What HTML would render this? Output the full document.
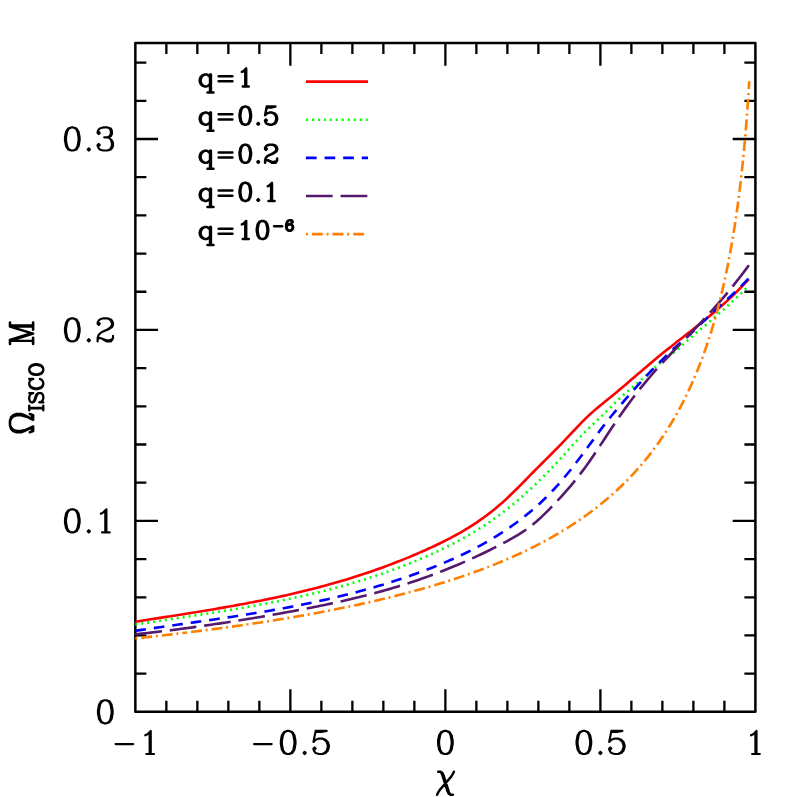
<!DOCTYPE html>
<html><head><meta charset="utf-8"><title>ISCO frequency</title>
<style>html,body{margin:0;padding:0;background:#fff;font-family:"Liberation Sans",sans-serif}svg{display:block}</style>
</head><body>
<svg width="797" height="797" viewBox="0 0 797 797">
<rect width="797" height="797" fill="#fff"/>
<defs><path id="g0" d="M9.05 -21 6.2 -20 4.3 -17 3.35 -12 3.35 -9 4.3 -4 6.2 -1 9.05 0 10.95 0 13.8 -1 15.7 -4 16.65 -9 16.65 -12 15.7 -17 13.8 -20 10.95 -21 9.05 -21M9.05 -21 7.15 -20 6.2 -19 5.25 -17 4.3 -12 4.3 -9 5.25 -4 6.2 -2 7.15 -1 9.05 0M10.95 0 12.85 -1 13.8 -2 14.75 -4 15.7 -9 15.7 -12 14.75 -17 13.8 -19 12.85 -20 10.95 -21"/><path id="g1" d="M6 -17 8 -18 11 -21 11 0M10 -20 10 0M7 0 14 0"/><path id="g2" d="M4 -17 5 -16 4 -15 3 -16 3 -17 4 -19 5 -20 8 -21 12 -21 15 -20 16 -19 17 -17 17 -15 16 -13 13 -11 8 -9 6 -8 4 -6 3 -3 3 0M12 -21 14 -20 15 -19 16 -17 16 -15 15 -13 12 -11 8 -9M3 -2 4 -3 6 -3 11 -1 14 -1 16 -2 17 -3M6 -3 11 0 15 0 16 -1 17 -3 17 -5"/><path id="g3" d="M4 -17 5 -16 4 -15 3 -16 3 -17 4 -19 5 -20 8 -21 12 -21 15 -20 16 -18 16 -15 15 -13 12 -12 9 -12M12 -21 14 -20 15 -18 15 -15 14 -13 12 -12M12 -12 14 -11 16 -9 17 -7 17 -4 16 -2 15 -1 12 0 8 0 5 -1 4 -2 3 -4 3 -5 4 -6 5 -5 4 -4M15 -10 16 -7 16 -4 15 -2 14 -1 12 0"/><path id="g4" d="M12 -19 12 0M13 -21 13 0M13 -21 2 -6 18 -6M9 0 16 0"/><path id="g5" d="M5 -21 3 -11M3 -11 5 -13 8 -14 11 -14 14 -13 16 -11 17 -8 17 -6 16 -3 14 -1 11 0 8 0 5 -1 4 -2 3 -4 3 -5 4 -6 5 -5 4 -4M11 -14 13 -13 15 -11 16 -8 16 -6 15 -3 13 -1 11 0M5 -21 15 -21M5 -20 10 -20 15 -21"/><path id="g6" d="M15 -18 14 -17 15 -16 16 -17 16 -18 15 -20 13 -21 10 -21 7 -20 5 -18 4 -16 3 -12 3 -6 4 -3 6 -1 9 0 11 0 14 -1 16 -3 17 -6 17 -7 16 -10 14 -12 11 -13 10 -13 7 -12 5 -10 4 -7M10 -21 8 -20 6 -18 5 -16 4 -12 4 -6 5 -3 7 -1 9 0M11 0 13 -1 15 -3 16 -6 16 -7 15 -10 13 -12 11 -13"/><path id="g7" d="M3 -21 3 -15M3 -17 4 -19 6 -21 8 -21 13 -18 15 -18 16 -19 17 -21M4 -19 6 -20 8 -20 13 -18M17 -21 17 -18 16 -15 12 -10 11 -8 10 -5 10 0M16 -15 11 -10 10 -8 9 -5 9 0"/><path id="g8" d="M8 -21 5 -20 4 -18 4 -15 5 -13 8 -12 12 -12 15 -13 16 -15 16 -18 15 -20 12 -21 8 -21M8 -21 6 -20 5 -18 5 -15 6 -13 8 -12M12 -12 14 -13 15 -15 15 -18 14 -20 12 -21M8 -12 5 -11 4 -10 3 -8 3 -4 4 -2 5 -1 8 0 12 0 15 -1 16 -2 17 -4 17 -8 16 -10 15 -11 12 -12M8 -12 6 -11 5 -10 4 -8 4 -4 5 -2 6 -1 8 0M12 0 14 -1 15 -2 16 -4 16 -8 15 -10 14 -11 12 -12"/><path id="g9" d="M16 -14 15 -11 13 -9 10 -8 9 -8 6 -9 4 -11 3 -14 3 -15 4 -18 6 -20 9 -21 11 -21 14 -20 16 -18 17 -15 17 -9 16 -5 15 -3 13 -1 10 0 7 0 5 -1 4 -3 4 -4 5 -5 6 -4 5 -3M9 -8 7 -9 5 -11 4 -14 4 -15 5 -18 7 -20 9 -21M11 -21 13 -20 15 -18 16 -15 16 -9 15 -5 14 -3 12 -1 10 0"/><path id="g10" d="M5 -2 4 -1 5 0 6 -1 5 -2"/><path id="g11" d="M15 -14 15 7M16 -14 16 7M15 -11 13 -13 11 -14 9 -14 6 -13 4 -11 3 -8 3 -6 4 -3 6 -1 9 0 11 0 13 -1 15 -3M9 -14 7 -13 5 -11 4 -8 4 -6 5 -3 7 -1 9 0M12 7 19 7"/><path id="g12" d="M5 -21 5 0M6 -21 12 -3M5 -21 12 0M19 -21 12 0M19 -21 19 0M20 -21 20 0M2 -21 6 -21M19 -21 23 -21M2 0 8 0M16 0 23 0"/><path id="g13" d="M5 -21 5 0M6 -21 6 0M2 -21 9 -21M2 0 9 0"/><path id="g14" d="M16 -18 17 -21 17 -15 16 -18 14 -20 11 -21 8 -21 5 -20 3 -18 3 -16 4 -14 5 -13 7 -12 13 -10 15 -9 17 -7M3 -16 5 -14 7 -13 13 -11 15 -10 16 -9 17 -7 17 -3 15 -1 12 0 9 0 6 -1 4 -3 3 -6 3 0 4 -3"/><path id="g15" d="M17 -18 18 -15 18 -21 17 -18 15 -20 12 -21 10 -21 7 -20 5 -18 4 -16 3 -13 3 -8 4 -5 5 -3 7 -1 10 0 12 0 15 -1 17 -3 18 -5M10 -21 8 -20 6 -18 5 -16 4 -13 4 -8 5 -5 6 -3 8 -1 10 0"/><path id="g16" d="M10 -21 7 -20 5 -18 4 -16 3 -12 3 -9 4 -5 5 -3 7 -1 10 0 12 0 15 -1 17 -3 18 -5 19 -9 19 -12 18 -16 17 -18 15 -20 12 -21 10 -21M10 -21 8 -20 6 -18 5 -16 4 -12 4 -9 5 -5 6 -3 8 -1 10 0M12 0 14 -1 16 -3 17 -5 18 -9 18 -12 17 -16 16 -18 14 -20 12 -21"/><path id="g17" d="M3 -3 4 0 8 0 6 -4 4 -8 3 -11 3 -15 4 -18 6 -20 9 -21 13 -21 16 -20 18 -18 19 -15 19 -11 18 -8 16 -4 14 0 18 0 19 -3M6 -4 5 -7 4 -11 4 -15 5 -18 7 -20 9 -21M13 -21 15 -20 17 -18 18 -15 18 -11 17 -7 16 -4M4 -1 7 -1M15 -1 18 -1"/><path id="g18" d="M2 -14 4 -14 6 -13 7 -11 12 4 13 6 14 7M4 -14 5 -13 6 -11 11 4 12 6 14 7 16 7M17 -14 16 -12 14 -9 4 2 2 5 1 7"/><path id="g19" d="M5 -9 21 -9"/><path id="g20" d="M5 -12 21 -12M5 -6 21 -6"/></defs>
<rect x="135.35" y="43.1" width="620.05" height="668.75" fill="none" stroke="#000" stroke-width="2.5" stroke-linejoin="round"/>
<path d="M166.35 711.85v-11M166.35 43.1v11M197.35 711.85v-11M197.35 43.1v11M228.36 711.85v-11M228.36 43.1v11M259.36 711.85v-11M259.36 43.1v11M290.36 711.85v-22.7M290.36 43.1v22.7M321.37 711.85v-11M321.37 43.1v11M352.37 711.85v-11M352.37 43.1v11M383.37 711.85v-11M383.37 43.1v11M414.37 711.85v-11M414.37 43.1v11M445.38 711.85v-22.7M445.38 43.1v22.7M476.38 711.85v-11M476.38 43.1v11M507.38 711.85v-11M507.38 43.1v11M538.38 711.85v-11M538.38 43.1v11M569.38 711.85v-11M569.38 43.1v11M600.39 711.85v-22.7M600.39 43.1v22.7M631.39 711.85v-11M631.39 43.1v11M662.39 711.85v-11M662.39 43.1v11M693.39 711.85v-11M693.39 43.1v11M724.4 711.85v-11M724.4 43.1v11M135.35 673.66h11M755.4 673.66h-11M135.35 635.47h11M755.4 635.47h-11M135.35 597.28h11M755.4 597.28h-11M135.35 559.09h11M755.4 559.09h-11M135.35 520.9h22.7M755.4 520.9h-22.7M135.35 482.71h11M755.4 482.71h-11M135.35 444.52h11M755.4 444.52h-11M135.35 406.33h11M755.4 406.33h-11M135.35 368.14h11M755.4 368.14h-11M135.35 329.95h22.7M755.4 329.95h-22.7M135.35 291.76h11M755.4 291.76h-11M135.35 253.57h11M755.4 253.57h-11M135.35 215.38h11M755.4 215.38h-11M135.35 177.19h11M755.4 177.19h-11M135.35 139h22.7M755.4 139h-22.7M135.35 100.81h11M755.4 100.81h-11M135.35 62.62h11M755.4 62.62h-11" fill="none" stroke="#000" stroke-width="2.3"/>
<path d="M135.35 621.7 138.43 621.22 141.52 620.74 144.6 620.26 147.68 619.78 150.77 619.3 153.85 618.82 156.93 618.34 160.02 617.86 163.1 617.38 166.18 616.9 169.26 616.42 172.35 615.94 175.43 615.46 178.51 614.97 181.6 614.49 184.68 614 187.76 613.51 190.85 613.01 193.93 612.51 197.01 612.02 200.1 611.51 203.18 611.01 206.26 610.5 209.35 609.98 212.43 609.46 215.51 608.94 218.6 608.41 221.68 607.88 224.76 607.35 227.84 606.8 230.93 606.25 234.01 605.7 237.09 605.14 240.18 604.57 243.26 604 246.34 603.42 249.43 602.83 252.51 602.24 255.59 601.64 258.68 601.03 261.76 600.41 264.84 599.79 267.93 599.15 271.01 598.51 274.09 597.86 277.18 597.2 280.26 596.53 283.34 595.85 286.43 595.16 289.51 594.46 292.59 593.76 295.67 593.04 298.76 592.3 301.84 591.56 304.92 590.81 308.01 590.05 311.09 589.27 314.17 588.48 317.26 587.68 320.34 586.87 323.42 586.04 326.51 585.21 329.59 584.36 332.67 583.49 335.76 582.61 338.84 581.72 341.92 580.82 345.01 579.9 348.09 578.96 351.17 578.01 354.25 577.05 357.34 576.07 360.42 575.07 363.5 574.06 366.59 573.04 369.67 571.99 372.75 570.93 375.84 569.86 378.92 568.77 382 567.66 385.09 566.53 388.17 565.39 391.25 564.22 394.34 563.04 397.42 561.84 400.5 560.63 403.59 559.39 406.67 558.14 409.75 556.86 412.83 555.57 415.92 554.26 419 552.92 422.08 551.57 425.17 550.2 428.25 548.8 431.33 547.39 434.42 545.95 437.5 544.49 440.58 543 443.67 541.47 446.75 539.92 449.83 538.32 452.92 536.69 456 535.01 459.08 533.29 462.17 531.52 465.25 529.69 468.33 527.81 471.42 525.87 474.5 523.88 477.58 521.81 480.66 519.68 483.75 517.48 486.83 515.21 489.91 512.86 493 510.43 496.08 507.92 499.16 505.32 502.25 502.64 505.33 499.86 508.41 496.99 511.5 494.05 514.58 491.03 517.66 487.96 520.75 484.85 523.83 481.72 526.91 478.56 530 475.41 533.08 472.27 536.16 469.16 539.24 466.07 542.33 463 545.41 459.94 548.49 456.88 551.58 453.8 554.66 450.7 557.74 447.56 560.83 444.37 563.91 441.13 566.99 437.85 570.08 434.57 573.16 431.29 576.24 428.03 579.33 424.82 582.41 421.68 585.49 418.62 588.58 415.67 591.66 412.85 594.74 410.14 597.82 407.53 600.91 404.99 603.99 402.49 607.07 400.01 610.16 397.52 613.24 394.99 616.32 392.44 619.41 389.86 622.49 387.26 625.57 384.64 628.66 382 631.74 379.36 634.82 376.71 637.91 374.06 640.99 371.41 644.07 368.77 647.16 366.14 650.24 363.53 653.32 360.93 656.41 358.36 659.49 355.82 662.57 353.3 665.65 350.82 668.74 348.36 671.82 345.92 674.9 343.5 677.99 341.09 681.07 338.68 684.15 336.28 687.24 333.88 690.32 331.47 693.4 329.06 696.49 326.63 699.57 324.18 702.65 321.71 705.74 319.21 708.82 316.69 711.9 314.12 714.99 311.52 718.07 308.88 721.15 306.19 724.23 303.44 727.32 300.64 730.4 297.78 733.48 294.85 736.57 291.86 739.65 288.79 742.73 285.64 745.82 282.42 748.9 279.1" fill="none" stroke="#ff0000" stroke-width="2.62"/>
<path d="M135.35 624.47 138.43 624 141.52 623.54 144.6 623.08 147.68 622.61 150.77 622.15 153.85 621.69 156.93 621.23 160.02 620.78 163.1 620.32 166.18 619.86 169.26 619.4 172.35 618.94 175.43 618.48 178.51 618.01 181.6 617.55 184.68 617.09 187.76 616.62 190.85 616.15 193.93 615.68 197.01 615.21 200.1 614.73 203.18 614.25 206.26 613.77 209.35 613.29 212.43 612.8 215.51 612.31 218.6 611.81 221.68 611.31 224.76 610.81 227.84 610.3 230.93 609.78 234.01 609.26 237.09 608.74 240.18 608.21 243.26 607.68 246.34 607.13 249.43 606.59 252.51 606.03 255.59 605.47 258.68 604.91 261.76 604.33 264.84 603.75 267.93 603.16 271.01 602.57 274.09 601.96 277.18 601.35 280.26 600.73 283.34 600.1 286.43 599.46 289.51 598.82 292.59 598.16 295.67 597.49 298.76 596.82 301.84 596.13 304.92 595.43 308.01 594.73 311.09 594.01 314.17 593.28 317.26 592.53 320.34 591.78 323.42 591.01 326.51 590.23 329.59 589.44 332.67 588.64 335.76 587.82 338.84 586.99 341.92 586.14 345.01 585.28 348.09 584.4 351.17 583.51 354.25 582.61 357.34 581.69 360.42 580.75 363.5 579.8 366.59 578.83 369.67 577.84 372.75 576.84 375.84 575.82 378.92 574.78 382 573.72 385.09 572.65 388.17 571.56 391.25 570.45 394.34 569.32 397.42 568.17 400.5 567 403.59 565.81 406.67 564.61 409.75 563.38 412.83 562.13 415.92 560.86 419 559.57 422.08 558.25 425.17 556.92 428.25 555.56 431.33 554.18 434.42 552.78 437.5 551.35 440.58 549.9 443.67 548.41 446.75 546.9 449.83 545.36 452.92 543.79 456 542.18 459.08 540.53 462.17 538.85 465.25 537.13 468.33 535.37 471.42 533.57 474.5 531.72 477.58 529.83 480.66 527.89 483.75 525.91 486.83 523.87 489.91 521.78 493 519.65 496.08 517.45 499.16 515.2 502.25 512.9 505.33 510.53 508.41 508.11 511.5 505.62 514.58 503.08 517.66 500.48 520.75 497.82 523.83 495.1 526.91 492.33 530 489.5 533.08 486.61 536.16 483.68 539.24 480.68 542.33 477.64 545.41 474.54 548.49 471.39 551.58 468.19 554.66 464.94 557.74 461.64 560.83 458.29 563.91 454.89 566.99 451.47 570.08 448.05 573.16 444.64 576.24 441.26 579.33 437.94 582.41 434.68 585.49 431.52 588.58 428.46 591.66 425.49 594.74 422.59 597.82 419.72 600.91 416.85 603.99 413.95 607.07 410.97 610.16 407.89 613.24 404.71 616.32 401.59 619.41 398.62 622.49 395.78 625.57 393.04 628.66 390.38 631.74 387.76 634.82 385.15 637.91 382.52 640.99 379.85 644.07 377.12 647.16 374.36 650.24 371.59 653.32 368.84 656.41 366.13 659.49 363.5 662.57 360.97 665.65 358.56 668.74 356.28 671.82 354.03 674.9 351.69 677.99 349.17 681.07 346.45 684.15 343.62 687.24 340.77 690.32 337.98 693.4 335.3 696.49 332.69 699.57 330.1 702.65 327.5 705.74 324.89 708.82 322.28 711.9 319.64 714.99 316.99 718.07 314.31 721.15 311.61 724.23 308.87 727.32 306.1 730.4 303.3 733.48 300.45 736.57 297.55 739.65 294.61 742.73 291.61 745.82 288.56 748.9 285.45" fill="none" stroke="#00ff00" stroke-width="2.62" stroke-dasharray="2 3.98"/>
<path d="M135.35 630.82 138.43 630.35 141.52 629.89 144.6 629.44 147.68 628.98 150.77 628.53 153.85 628.08 156.93 627.64 160.02 627.19 163.1 626.75 166.18 626.31 169.26 625.87 172.35 625.43 175.43 624.99 178.51 624.55 181.6 624.11 184.68 623.67 187.76 623.23 190.85 622.8 193.93 622.36 197.01 621.92 200.1 621.47 203.18 621.03 206.26 620.58 209.35 620.14 212.43 619.69 215.51 619.24 218.6 618.78 221.68 618.33 224.76 617.87 227.84 617.4 230.93 616.94 234.01 616.47 237.09 615.99 240.18 615.51 243.26 615.03 246.34 614.54 249.43 614.05 252.51 613.55 255.59 613.05 258.68 612.54 261.76 612.03 264.84 611.51 267.93 610.98 271.01 610.45 274.09 609.91 277.18 609.36 280.26 608.8 283.34 608.24 286.43 607.67 289.51 607.09 292.59 606.51 295.67 605.91 298.76 605.31 301.84 604.7 304.92 604.08 308.01 603.45 311.09 602.81 314.17 602.16 317.26 601.5 320.34 600.83 323.42 600.15 326.51 599.46 329.59 598.76 332.67 598.05 335.76 597.32 338.84 596.59 341.92 595.84 345.01 595.08 348.09 594.31 351.17 593.52 354.25 592.72 357.34 591.91 360.42 591.09 363.5 590.25 366.59 589.4 369.67 588.53 372.75 587.65 375.84 586.76 378.92 585.85 382 584.93 385.09 583.99 388.17 583.03 391.25 582.06 394.34 581.08 397.42 580.08 400.5 579.06 403.59 578.02 406.67 576.97 409.75 575.9 412.83 574.82 415.92 573.71 419 572.59 422.08 571.45 425.17 570.3 428.25 569.12 431.33 567.93 434.42 566.71 437.5 565.48 440.58 564.22 443.67 562.95 446.75 561.64 449.83 560.31 452.92 558.95 456 557.57 459.08 556.15 462.17 554.7 465.25 553.22 468.33 551.71 471.42 550.16 474.5 548.57 477.58 546.95 480.66 545.28 483.75 543.58 486.83 541.83 489.91 540.04 493 538.21 496.08 536.33 499.16 534.4 502.25 532.42 505.33 530.4 508.41 528.32 511.5 526.19 514.58 523.99 517.66 521.74 520.75 519.42 523.83 517.03 526.91 514.57 530 512.03 533.08 509.41 536.16 506.7 539.24 503.91 542.33 501.03 545.41 498.05 548.49 494.98 551.58 491.8 554.66 488.52 557.74 485.12 560.83 481.62 563.91 478 566.99 474.27 570.08 470.46 573.16 466.55 576.24 462.57 579.33 458.53 582.41 454.42 585.49 450.27 588.58 446.08 591.66 441.88 594.74 437.68 597.82 433.5 600.91 429.38 603.99 425.32 607.07 421.35 610.16 417.48 613.24 413.74 616.32 410.06 619.41 406.41 622.49 402.79 625.57 399.21 628.66 395.67 631.74 392.16 634.82 388.68 637.91 385.25 640.99 381.86 644.07 378.52 647.16 375.22 650.24 371.96 653.32 368.76 656.41 365.6 659.49 362.49 662.57 359.44 665.65 356.45 668.74 353.51 671.82 350.63 674.9 347.8 677.99 345.03 681.07 342.29 684.15 339.54 687.24 336.77 690.32 333.95 693.4 331.06 696.49 328.12 699.57 325.14 702.65 322.16 705.74 319.19 708.82 316.24 711.9 313.32 714.99 310.42 718.07 307.56 721.15 304.73 724.23 301.94 727.32 299.16 730.4 296.36 733.48 293.52 736.57 290.62 739.65 287.64 742.73 284.55 745.82 281.33 748.9 277.95" fill="none" stroke="#0000ff" stroke-width="2.62" stroke-dasharray="10.7 7.94"/>
<path d="M135.35 634.28 138.43 633.96 141.52 633.63 144.6 633.29 147.68 632.95 150.77 632.6 153.85 632.24 156.93 631.88 160.02 631.52 163.1 631.15 166.18 630.77 169.26 630.39 172.35 630.01 175.43 629.61 178.51 629.22 181.6 628.82 184.68 628.41 187.76 628 190.85 627.58 193.93 627.16 197.01 626.73 200.1 626.3 203.18 625.86 206.26 625.42 209.35 624.97 212.43 624.52 215.51 624.06 218.6 623.6 221.68 623.14 224.76 622.67 227.84 622.19 230.93 621.71 234.01 621.23 237.09 620.74 240.18 620.25 243.26 619.75 246.34 619.25 249.43 618.74 252.51 618.23 255.59 617.71 258.68 617.19 261.76 616.67 264.84 616.14 267.93 615.61 271.01 615.07 274.09 614.53 277.18 613.99 280.26 613.44 283.34 612.89 286.43 612.33 289.51 611.77 292.59 611.2 295.67 610.63 298.76 610.05 301.84 609.47 304.92 608.88 308.01 608.28 311.09 607.68 314.17 607.07 317.26 606.45 320.34 605.82 323.42 605.19 326.51 604.54 329.59 603.89 332.67 603.23 335.76 602.56 338.84 601.88 341.92 601.19 345.01 600.49 348.09 599.77 351.17 599.05 354.25 598.32 357.34 597.57 360.42 596.81 363.5 596.04 366.59 595.25 369.67 594.46 372.75 593.65 375.84 592.82 378.92 591.98 382 591.13 385.09 590.26 388.17 589.38 391.25 588.48 394.34 587.57 397.42 586.64 400.5 585.69 403.59 584.73 406.67 583.75 409.75 582.75 412.83 581.73 415.92 580.7 419 579.65 422.08 578.58 425.17 577.49 428.25 576.38 431.33 575.25 434.42 574.1 437.5 572.94 440.58 571.75 443.67 570.54 446.75 569.31 449.83 568.06 452.92 566.8 456 565.51 459.08 564.2 462.17 562.87 465.25 561.52 468.33 560.14 471.42 558.75 474.5 557.34 477.58 555.9 480.66 554.45 483.75 552.97 486.83 551.47 489.91 549.96 493 548.42 496.08 546.85 499.16 545.27 502.25 543.67 505.33 542.04 508.41 540.39 511.5 538.7 514.58 536.95 517.66 535.13 520.75 533.22 523.83 531.2 526.91 529.05 530 526.77 533.08 524.32 536.16 521.73 539.24 519 542.33 516.15 545.41 513.18 548.49 510.11 551.58 506.95 554.66 503.71 557.74 500.41 560.83 497.05 563.91 493.62 566.99 490.12 570.08 486.54 573.16 482.86 576.24 479.07 579.33 475.17 582.41 471.13 585.49 466.96 588.58 462.65 591.66 458.21 594.74 453.67 597.82 449.05 600.91 444.38 603.99 439.68 607.07 434.98 610.16 430.3 613.24 425.66 616.32 421.09 619.41 416.61 622.49 412.2 625.57 407.88 628.66 403.65 631.74 399.5 634.82 395.44 637.91 391.48 640.99 387.6 644.07 383.81 647.16 380.1 650.24 376.48 653.32 372.92 656.41 369.43 659.49 366 662.57 362.62 665.65 359.28 668.74 355.99 671.82 352.73 674.9 349.5 677.99 346.29 681.07 343.09 684.15 339.9 687.24 336.72 690.32 333.53 693.4 330.34 696.49 327.12 699.57 323.89 702.65 320.63 705.74 317.33 708.82 313.99 711.9 310.61 714.99 307.17 718.07 303.69 721.15 300.14 724.23 296.53 727.32 292.86 730.4 289.12 733.48 285.31 736.57 281.42 739.65 277.47 742.73 273.46 745.82 269.39 748.9 265.27" fill="none" stroke="#551a6e" stroke-width="2.62" stroke-dasharray="26.8 7.86"/>
<path d="M135.35 638.41 137.07 638.23 138.78 638.04 140.5 637.86 142.21 637.67 143.93 637.49 145.64 637.3 147.36 637.11 149.07 636.92 150.79 636.73 152.51 636.54 154.22 636.35 155.94 636.16 157.65 635.97 159.37 635.77 161.08 635.58 162.8 635.38 164.51 635.18 166.23 634.99 167.94 634.79 169.66 634.59 171.38 634.39 173.09 634.19 174.81 633.98 176.52 633.78 178.24 633.57 179.95 633.37 181.67 633.16 183.38 632.95 185.1 632.75" fill="none" stroke="#ff7f00" stroke-width="2.62" stroke-dasharray="2 4 10.9 3.76"/>
<path d="M185.1 632.75 190.11 632.13 195.13 631.51 200.14 630.87 205.16 630.23 210.17 629.57 215.19 628.91 220.2 628.24 225.22 627.55 230.23 626.86 235.24 626.16 240.26 625.44 245.27 624.71 250.29 623.97 255.3 623.22 260.32 622.46 265.33 621.69 270.35 620.9 275.36 620.1 280.38 619.28 285.39 618.46 290.4 617.61 295.42 616.76 300.43 615.88 305.45 615 310.46 614.1 315.48 613.18 320.49 612.24 325.51 611.29 330.52 610.32 335.53 609.33 340.55 608.33 345.56 607.3 350.58 606.26 355.59 605.19 360.61 604.11 365.62 603 370.64 601.87 375.65 600.72 380.67 599.55 385.68 598.35 390.69 597.13 395.71 595.88 400.72 594.6 405.74 593.3 410.75 591.97 415.77 590.61 420.78 589.22 425.8 587.8 430.81 586.34 435.82 584.85 440.84 583.33 445.85 581.77 450.87 580.18 455.88 578.55 460.9 576.87 465.91 575.16 470.93 573.4 475.94 571.59 480.96 569.74 485.97 567.84 490.98 565.89 496 563.89 501.01 561.83 506.03 559.71 511.04 557.53 516.06 555.3 521.07 552.99 526.09 550.61 531.1 548.17 536.11 545.64 541.13 543.04 546.14 540.36 551.16 537.58 556.17 534.71 561.19 531.75 566.2 528.68 571.22 525.51 576.23 522.21 581.25 518.8 586.26 515.26 591.27 511.57 596.29 507.75 601.3 503.76 606.32 499.61 611.33 495.28 616.35 490.76 621.36 486.03 626.38 481.08 631.39 475.9 632.24 475 633.09 474.09 633.93 473.17 634.78 472.24 635.63 471.31 636.48 470.37 637.32 469.42 638.17 468.47 639.02 467.5 639.87 466.53 640.72 465.55 641.56 464.56 642.41 463.56 643.26 462.55 644.11 461.53 644.95 460.51 645.8 459.47 646.65 458.43 647.5 457.37 648.35 456.31 649.19 455.23 650.04 454.15 650.89 453.06 651.74 451.95 652.58 450.84 653.43 449.71 654.28 448.57 655.13 447.43 655.98 446.27 656.82 445.1 657.67 443.92 658.52 442.72 659.37 441.52 660.21 440.3 661.06 439.07 661.91 437.83 662.76 436.57 663.61 435.3 664.45 434.02 665.3 432.73 666.15 431.42 667 430.09 667.84 428.76 668.69 427.4 669.54 426.04 670.39 424.66 671.24 423.26 672.08 421.85 672.93 420.42 673.78 418.97 674.63 417.51 675.47 416.03 676.32 414.53 677.17 413.02 678.02 411.49 678.87 409.94 679.71 408.37 680.56 406.78 681.41 405.17 682.26 403.55 683.1 401.9 683.95 400.23 684.8 398.54 685.65 396.83 686.5 395.09 687.34 393.34 688.19 391.56 689.04 389.75 689.89 387.92 690.73 386.07 691.58 384.19 692.43 382.28 693.28 380.35 694.13 378.39 694.97 376.4 695.82 374.38 696.67 372.34 697.52 370.26 698.36 368.15 699.21 366 700.06 363.83 700.91 361.62 701.76 359.37 702.6 357.09 703.45 354.78 704.3 352.42 705.15 350.02 705.99 347.59 706.84 345.11 707.69 342.59 708.54 340.02 709.39 337.41 710.23 334.75 711.08 332.04 711.93 329.28 712.78 326.46 713.62 323.59 714.47 320.67 715.32 317.69 716.17 314.64 717.02 311.53 717.86 308.36 718.71 305.12 719.56 301.81 720.41 298.42 721.25 294.95 722.1 291.41 722.95 287.78 723.8 284.06 724.65 280.25 725.49 276.34 726.34 272.33 727.19 268.21 728.04 263.98 728.88 259.63 729.73 255.15 730.58 250.55 731.43 245.8 732.28 240.9 733.12 235.84 733.97 230.62 734.82 225.21 735.67 219.61 736.51 213.8 737.36 207.77 738.21 201.49 739.06 194.95 739.9 188.12 740.75 180.98 741.6 173.5 742.45 165.63 743.3 157.34 744.14 148.57 744.99 139.26 745.84 129.34 746.69 118.72 747.53 107.27 748.38 94.85 749.23 81.24" fill="none" stroke="#ff7f00" stroke-width="2.62" stroke-dasharray="2 4 10.9 3.76"/>
<path d="M305.9 81.6H368" fill="none" stroke="#ff0000" stroke-width="2.62"/>
<path d="M305.9 119.73H368" fill="none" stroke="#00ff00" stroke-width="2.62" stroke-dasharray="2 3.98"/>
<path d="M305.9 157.86H368" fill="none" stroke="#0000ff" stroke-width="2.62" stroke-dasharray="10.7 7.94"/>
<path d="M305.9 195.99H368" fill="none" stroke="#551a6e" stroke-width="2.62" stroke-dasharray="26.8 7.86"/>
<path d="M305.9 234.12H368" fill="none" stroke="#ff7f00" stroke-width="2.62" stroke-dasharray="2 4 10.9 3.76"/>
<g fill="none" stroke="#000" stroke-linecap="round" stroke-linejoin="round">
<g transform="translate(197.15 86.5) scale(0.8600 0.8600)" stroke-width="2.907"><use href="#g11" x="0"/><use href="#g20" x="20"/><use href="#g1" x="46"/></g>
<g transform="translate(197.15 124.63) scale(0.8600 0.8600)" stroke-width="2.907"><use href="#g11" x="0"/><use href="#g20" x="20"/><use href="#g0" x="46"/><use href="#g10" x="66"/><use href="#g5" x="76"/></g>
<g transform="translate(197.15 162.76) scale(0.8600 0.8600)" stroke-width="2.907"><use href="#g11" x="0"/><use href="#g20" x="20"/><use href="#g0" x="46"/><use href="#g10" x="66"/><use href="#g2" x="76"/></g>
<g transform="translate(197.15 200.89) scale(0.8600 0.8600)" stroke-width="2.907"><use href="#g11" x="0"/><use href="#g20" x="20"/><use href="#g0" x="46"/><use href="#g10" x="66"/><use href="#g1" x="76"/></g>
<g transform="translate(197.15 239.02) scale(0.8600 0.8600)" stroke-width="2.907"><use href="#g11" x="0"/><use href="#g20" x="20"/><use href="#g1" x="46"/><use href="#g0" x="66"/></g>
<g transform="translate(271.65 230.72) scale(0.5000 0.5000)" stroke-width="5.000"><use href="#g19" x="0"/><use href="#g6" x="26"/></g>
<g transform="translate(61.3 150.5) scale(1.1000 1.1000)" stroke-width="1.955"><use href="#g0" x="0"/><use href="#g10" x="20"/><use href="#g3" x="30"/></g>
<g transform="translate(61.3 341.45) scale(1.1000 1.1000)" stroke-width="1.955"><use href="#g0" x="0"/><use href="#g10" x="20"/><use href="#g2" x="30"/></g>
<g transform="translate(61.3 532.4) scale(1.1000 1.1000)" stroke-width="1.955"><use href="#g0" x="0"/><use href="#g10" x="20"/><use href="#g1" x="30"/></g>
<g transform="translate(94.3 723.35) scale(1.1000 1.1000)" stroke-width="1.955"><use href="#g0" x="0"/></g>
<g transform="translate(110.05 754) scale(1.1000 1.1000)" stroke-width="1.955"><use href="#g19" x="0"/><use href="#g1" x="26"/></g>
<g transform="translate(248.56 754) scale(1.1000 1.1000)" stroke-width="1.955"><use href="#g19" x="0"/><use href="#g0" x="26"/><use href="#g10" x="46"/><use href="#g5" x="56"/></g>
<g transform="translate(434.38 754) scale(1.1000 1.1000)" stroke-width="1.955"><use href="#g0" x="0"/></g>
<g transform="translate(572.89 754) scale(1.1000 1.1000)" stroke-width="1.955"><use href="#g0" x="0"/><use href="#g10" x="20"/><use href="#g5" x="30"/></g>
<g transform="translate(744.4 754) scale(1.1000 1.1000)" stroke-width="1.955"><use href="#g1" x="0"/></g>
<g transform="translate(436 787.1) scale(1.0560 1.1000)" stroke-width="2.273"><use href="#g18" x="0"/></g>
<g transform="translate(33.1 435.6) rotate(-90) scale(1.1330 1.1000)" stroke-width="2.364"><use href="#g17" x="0"/></g>
<g transform="translate(43.3 411.8) rotate(-90) scale(0.6700 0.6700)" stroke-width="3.433"><use href="#g13" x="0"/><use href="#g14" x="11"/><use href="#g15" x="31"/><use href="#g16" x="52"/></g>
<g transform="translate(33.1 346) rotate(-90) scale(1.0230 1.1000)" stroke-width="2.364"><use href="#g12" x="0"/></g>
</g>
</svg>
</body></html>
